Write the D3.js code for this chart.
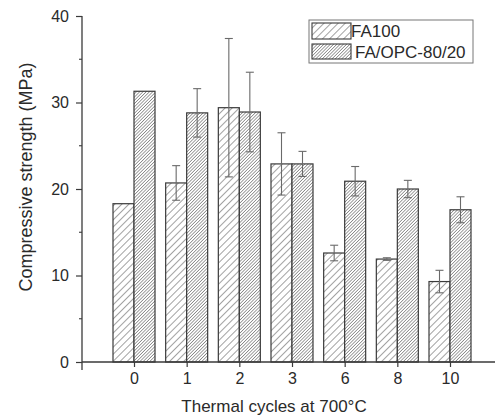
<!DOCTYPE html>
<html>
<head>
<meta charset="utf-8">
<script src="https://cdn.jsdelivr.net/npm/d3@7"></script>
<style>
	body { margin: 0; background: #fff; }
	text { font-family: "Liberation Sans", Arial, sans-serif; fill: #2a2a2a; }
</style>
</head>
<body>
<svg id="chart" width="495" height="417"></svg>
<script>
// data
var cycles = ["0", "1", "2", "3", "6", "8", "10"];
var fa100 = [18.3, 20.7, 29.4, 22.9, 12.6, 11.9, 9.3];
var fa100Err = [0, 2.0, 8.0, 3.6, 0.9, 0.15, 1.3];
var faOpc = [31.3, 28.8, 28.9, 22.9, 20.9, 20.0, 17.6];
var faOpcErr = [0, 2.8, 4.6, 1.45, 1.7, 1.0, 1.5];
var seriesNames = ["FA100", "FA/OPC-80/20"];
var yTicks = [0, 10, 20, 30, 40];
var yMinor = [5, 15, 25, 35];

var svg = d3.select("#chart");

var y = d3.scaleLinear().domain([0, 40]).range([362, 16]);
var x = d3.scalePoint().domain(cycles).range([134, 450]);
var barW = 21;
var font = "'Liberation Sans', Arial, sans-serif";

// hatch patterns
var defs = svg.append("defs");
function hatch(id, gap){
	var p = defs.append("pattern")
	.attr("id", id)
	.attr("patternUnits", "userSpaceOnUse")
	.attr("width", gap)
	.attr("height", gap)
	.attr("patternTransform", "rotate(45)");
	p.append("rect").attr("width", gap).attr("height", gap).attr("fill", "#fff");
	p.append("line")
	.attr("x1", 0).attr("y1", 0).attr("x2", 0).attr("y2", gap)
	.attr("stroke", "#555").attr("stroke-width", 1.1);
}
hatch("h-wide", 5);
hatch("h-dense", 2.3);

var series = [
	{ name: seriesNames[0], values: fa100, err: fa100Err, fill: "url(#h-wide)", off: -barW },
	{ name: seriesNames[1], values: faOpc, err: faOpcErr, fill: "url(#h-dense)", off: 0 }
];

series.forEach(function(s){
	var g = svg.append("g");
	g.selectAll("rect")
	.data(s.values)
	.enter().append("rect")
	.attr("x", function(d, i){ return x(cycles[i]) + s.off; })
	.attr("y", function(d){ return y(d); })
	.attr("width", barW)
	.attr("height", function(d){ return y(0) - y(d); })
	.attr("fill", s.fill)
	.attr("stroke", "#3a3a3a")
	.attr("stroke-width", 1.2);
});

// error bars on top
series.forEach(function(s){
	var g = svg.append("g").attr("stroke", "#6a6a6a").attr("stroke-width", 1.1);
	s.values.forEach(function(v, i){
		if(!s.err[i]) return;
		var cx = x(cycles[i]) + s.off + barW / 2;
		var t = y(v + s.err[i]), b = y(v - s.err[i]);
		g.append("line").attr("x1", cx).attr("x2", cx).attr("y1", t).attr("y2", b);
		g.append("line").attr("x1", cx - 4).attr("x2", cx + 4).attr("y1", t).attr("y2", t);
		g.append("line").attr("x1", cx - 4).attr("x2", cx + 4).attr("y1", b).attr("y2", b);
	});
});

// axes
var axisCol = "#3a3a3a";
svg.append("line")
.attr("x1", 82).attr("x2", 82).attr("y1", y(40)).attr("y2", 370)
.attr("stroke", axisCol).attr("stroke-width", 1.3);
svg.append("line")
.attr("x1", 82).attr("x2", 495).attr("y1", y(0)).attr("y2", y(0))
.attr("stroke", axisCol).attr("stroke-width", 1.3);

var yAxis = d3.axisLeft(y).tickValues(yTicks).tickSize(6).tickPadding(7);
var ya = svg.append("g").attr("transform", "translate(82,0)").call(yAxis);
ya.select(".domain").remove();
ya.selectAll("line").attr("stroke", axisCol).attr("stroke-width", 1.2);
ya.selectAll("text").attr("font-size", 16).attr("fill", "#2a2a2a").style("font-family", font);

svg.append("g").selectAll("line")
.data(yMinor)
.enter().append("line")
.attr("x1", 79).attr("x2", 82)
.attr("y1", function(d){ return y(d); }).attr("y2", function(d){ return y(d); })
.attr("stroke", axisCol).attr("stroke-width", 1.1);

var xAxis = d3.axisBottom(x).tickSize(5).tickPadding(6);
var xa = svg.append("g").attr("transform", "translate(0," + y(0) + ")").call(xAxis);
xa.select(".domain").remove();
xa.selectAll("line").attr("stroke", axisCol).attr("stroke-width", 1.2);
xa.selectAll("text").attr("font-size", 16).attr("fill", "#2a2a2a").style("font-family", font);

svg.append("text")
.attr("x", 274).attr("y", 412)
.attr("text-anchor", "middle")
.attr("font-size", 17)
.text("Thermal cycles at 700\u00B0C");

svg.append("text")
.attr("transform", "translate(32,177) rotate(-90)")
.attr("text-anchor", "middle")
.attr("font-size", 18)
.text("Compressive strength (MPa)");

// legend
var lg = svg.append("g");
lg.append("rect")
.attr("x", 309).attr("y", 20).attr("width", 164).attr("height", 43)
.attr("fill", "#fff").attr("stroke", "#777").attr("stroke-width", 1);
var legendRows = [
	{ y: 23, h: 16, fill: "url(#h-wide)", tx: 351, ty: 37 },
	{ y: 44, h: 15, fill: "url(#h-dense)", tx: 355, ty: 58 }
];
legendRows.forEach(function(r, i){
	lg.append("rect")
	.attr("x", 312).attr("y", r.y).attr("width", 39).attr("height", r.h)
	.attr("fill", r.fill).attr("stroke", "#3a3a3a").attr("stroke-width", 1.1);
	lg.append("text")
	.attr("x", r.tx).attr("y", r.ty)
	.attr("font-size", 17)
	.text(series[i].name);
});
</script>
</body>
</html>
